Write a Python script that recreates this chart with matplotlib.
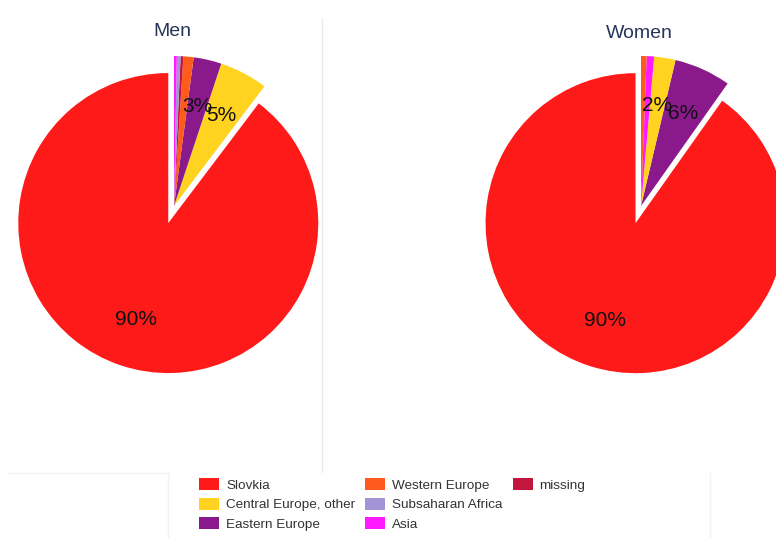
import matplotlib
matplotlib.use("Agg")
import matplotlib.pyplot as plt
from matplotlib.patches import Patch
from matplotlib.lines import Line2D

plt.rcParams['font.family'] = ['Liberation Sans', 'DejaVu Sans']

# ---- data ----
categories = ["Slovkia", "Central Europe, other", "Eastern Europe",
              "Western Europe", "Subsaharan Africa", "Asia", "missing"]
colors = {"Slovkia": "#ff1a1a", "Central Europe, other": "#ffd31f",
          "Eastern Europe": "#8a1a8c", "Western Europe": "#ff5b1c",
          "Subsaharan Africa": "#a294d6", "Asia": "#ff1aff",
          "missing": "#c2163f"}

men_labels = ["Slovkia", "Central Europe, other", "Eastern Europe",
              "Western Europe", "missing", "Subsaharan Africa", "Asia"]
men_values = [89.7, 5.2, 3.0, 1.1, 0.3, 0.4, 0.3]

women_labels = ["Slovkia", "Eastern Europe", "Central Europe, other",
                "Asia", "Western Europe"]
women_values = [90.2, 6.1, 2.3, 0.8, 0.6]

titles = ["Men", "Women"]

W, H = 776, 538
fig = plt.figure(figsize=(W / 100, H / 100), dpi=100)

R = 150.0  # px radius
LIM = 1.2


def add_pie(cx, cy, labels, values, title, tx, ty):
    size = 2 * LIM * R
    ax = fig.add_axes([(cx - size / 2) / W, (H - cy - size / 2) / H,
                       size / W, size / H])
    explode = [0.12 if l == "Slovkia" else 0.0 for l in labels]
    ax.pie(values, colors=[colors[l] for l in labels], startangle=90,
           counterclock=True, explode=explode, radius=1.0,
           autopct=lambda p: ("%.0f%%" % p) if p >= 2 else "",
           pctdistance=0.68, wedgeprops=dict(linewidth=0),
           textprops=dict(fontsize=15, color="#111111"))
    ax.set_xlim(-LIM, LIM)
    ax.set_ylim(-LIM, LIM)
    ax.set_aspect("equal")
    ax.axis("off")
    fig.text(tx / W, 1 - ty / H, title, ha="center", va="center",
             fontsize=14, color="#26355a")
    return ax


add_pie(174, 206, men_labels, men_values, titles[0], 172, 32)
add_pie(641, 206, women_labels, women_values, titles[1], 639, 33)

# faint separator lines
fig.add_artist(Line2D([322 / W, 322 / W], [1 - 18 / H, 1 - 472 / H],
                      color="#e3edf1", lw=1.0))
fig.add_artist(Line2D([8 / W, 168 / W], [1 - 473 / H, 1 - 473 / H],
                      color="#eef3f5", lw=1.0))
fig.add_artist(Line2D([168 / W, 168 / W], [1 - 473 / H, 0],
                      color="#eef3f5", lw=1.0))
fig.add_artist(Line2D([710 / W, 710 / W], [1 - 473 / H, 0],
                      color="#eef3f5", lw=1.0))

# legend (column order: 3,3,1)
handles = [Patch(facecolor=colors[c], edgecolor="none") for c in categories]
labels = list(categories)
blank = Patch(facecolor="none", edgecolor="none")
handles += [blank, blank]
labels += ["", ""]
fs = 9.7
fig.legend(handles, labels, loc="upper left",
           bbox_to_anchor=(199 / W, 1 - 478 / H), ncol=3, frameon=False,
           fontsize=fs, borderpad=0, borderaxespad=0,
           handlelength=1.5, handleheight=1.0, handletextpad=0.5,
           labelspacing=0.45, columnspacing=0.75, labelcolor="#333333")

fig.savefig("out.png", dpi=100)
